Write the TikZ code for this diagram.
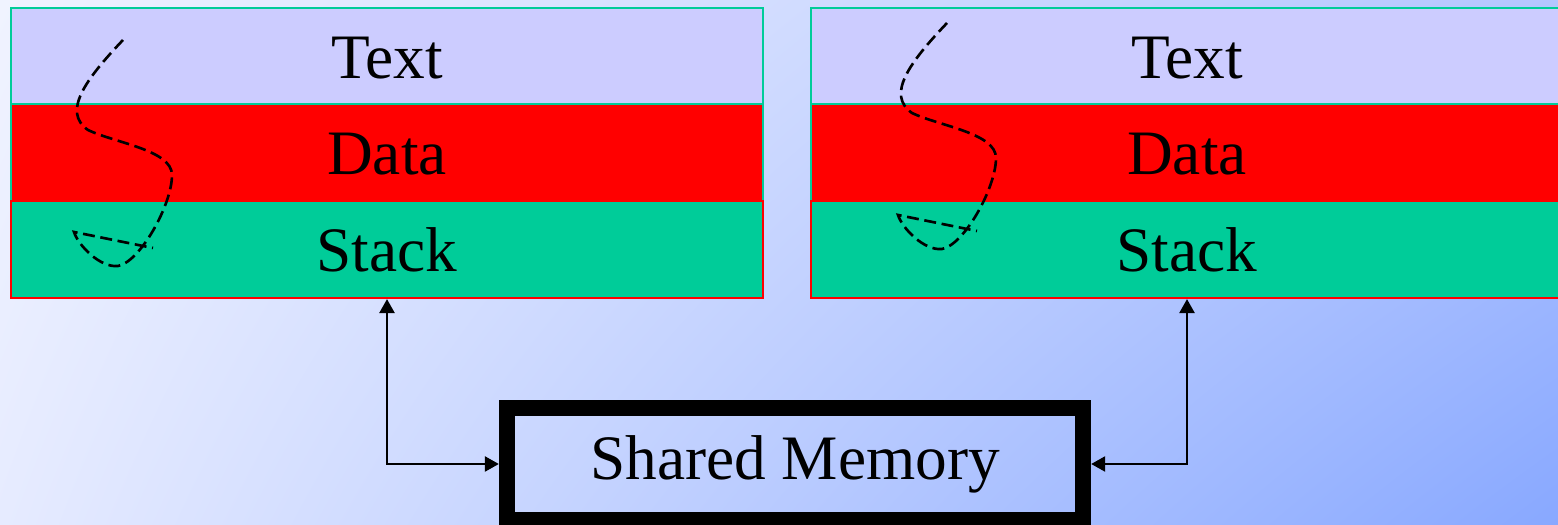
\documentclass[tikz,border=0pt]{standalone}
\usepackage{fontspec}
\setmainfont{Liberation Serif}
\usetikzlibrary{arrows.meta,shadings}
\definecolor{bgUL}{HTML}{F0F3FF}
\definecolor{bgUR}{HTML}{B4C6FF}
\definecolor{bgLL}{HTML}{E6EBFF}
\definecolor{bgLR}{HTML}{88A8FF}
\definecolor{lav}{HTML}{CCCCFF}
\definecolor{teal}{HTML}{00CC99}
\definecolor{pure red}{HTML}{FF0000}
\tikzset{
  seg/.style={minimum width=7.52cm, inner sep=0pt, line width=0.6pt, text height=0.44cm, text depth=0cm, font=\fontsize{18pt}{20pt}\selectfont},
  textseg/.style={seg, fill=lav, draw=teal, minimum height=0.96cm},
  dataseg/.style={seg, fill=pure red, draw=teal, minimum height=0.97cm},
  stackseg/.style={seg, fill=teal, draw=pure red, minimum height=0.97cm},
  shmbox/.style={draw=black, line width=0.16cm, minimum width=5.76cm, minimum height=1.12cm, inner sep=0pt, font=\fontsize{18pt}{20pt}\selectfont},
  conn/.style={line width=0.7pt, {Triangle[length=0.14cm,width=0.15cm]}-{Triangle[length=0.14cm,width=0.15cm]}},
  curvy/.style={line width=0.75pt, dash pattern=on 3.4pt off 1.6pt}
}
\begin{document}
\begin{tikzpicture}[x=0.01cm,y=-0.01cm]
\clip (0,0) rectangle (1558,525);
\shade[upper left=bgUL, upper right=bgUR, lower left=bgLL, lower right=bgLR] (0,0) rectangle (1558,525);
% left process
\node[textseg] (textL) at (387,56) {Text};
\node[dataseg] (dataL) at (387,152.5) {Data};
\node[stackseg] (stackL) at (387,249.5) {Stack};
% right process
\node[textseg] (textR) at (1187,56) {Text};
\node[dataseg] (dataR) at (1187,152.5) {Data};
\node[stackseg] (stackR) at (1187,249.5) {Stack};
% shared memory
\node[shmbox] (shm) at (795,464) {Shared Memory};
% connectors
\draw[conn] (stackL.south) |- (shm.west);
\draw[conn] (stackR.south) |- (shm.east);
% dashed execution traces
\draw[curvy] (123,40) .. controls (85,80) and (62,112) .. (88,130)
  .. controls (115,143) and (172,150) .. (172,175)
  .. controls (172,205) and (140,262) .. (118,266)
  .. controls (100,268) and (78,245) .. (74,232) -- (153,248);
\begin{scope}[shift={(824,-17)}]
\draw[curvy] (123,40) .. controls (85,80) and (62,112) .. (88,130)
  .. controls (115,143) and (172,150) .. (172,175)
  .. controls (172,205) and (140,262) .. (118,266)
  .. controls (100,268) and (78,245) .. (74,232) -- (153,248);
\end{scope}
\end{tikzpicture}
\end{document}
